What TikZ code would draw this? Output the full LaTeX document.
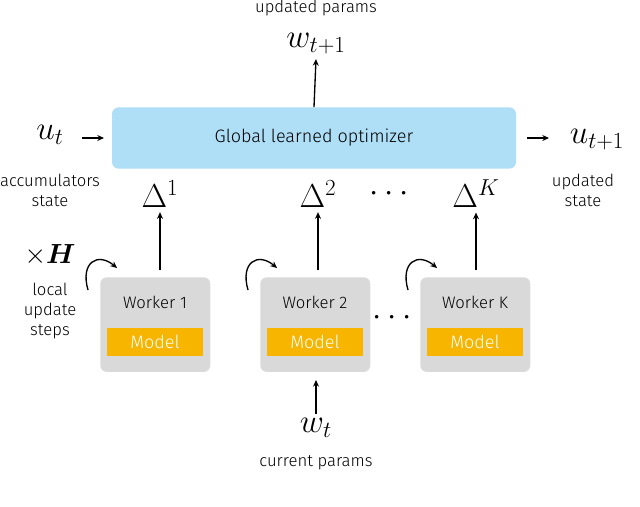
\documentclass[tikz,border=0pt]{standalone}
\usepackage{amsmath,amsbsy}
\usepackage{fontspec}
\setmainfont{Fira Sans}[UprightFont=*-Light]
\usetikzlibrary{arrows.meta}
\definecolor{optblue}{HTML}{AEDFF7}
\definecolor{wgray}{HTML}{D9D9D9}
\definecolor{morange}{HTML}{F7B500}
\begin{document}
\begin{tikzpicture}[x={(0.75pt,0)},y={(0,-0.75pt)},
  arr/.style={-{Stealth[length=5pt,width=4.5pt]},line width=1pt},
  lbl/.style={font=\fontsize{12.5}{15}\selectfont,align=center},
  mth/.style={font=\fontsize{26}{28}\selectfont},
  worker/.style={fill=wgray,rounded corners=5pt,minimum width=82.5pt,minimum height=71pt,anchor=north west,inner sep=0pt},
  model/.style={fill=morange,text=white,minimum width=72pt,minimum height=21pt,inner sep=0pt,font=\fontsize{13.5}{14}\selectfont},
  wtext/.style={font=\fontsize{12.5}{13}\selectfont}]
\useasboundingbox (0,0) rectangle (640,507);
\node[fill=optblue,rounded corners=5pt,minimum width=303pt,minimum height=46pt,inner sep=0pt,font=\fontsize{13.5}{14}\selectfont] (opt) at (314,138) {Global learned optimizer};
\node[lbl] (up) at (316,8) {updated params};
\node[mth] (wt1) at (316,44) {$w_{t+1}$};
\draw[arr] (opt.north) -- (wt1.south);
\node[mth] (ut) at (50,135) {$u_t$};
\node[mth] (ut1) at (597,140) {$u_{t+1}$};
\coordinate (a1) at (82,138); \coordinate (a2) at (104,138);
\draw[arr] (a1) -- (a2);
\coordinate (b1) at (527,138); \coordinate (b2) at (549,138);
\draw[arr] (b1) -- (b2);
\node[lbl] (acc) at (50,190) {accumulators\\state};
\node[lbl] (ust) at (583,190) {updated\\state};
\node[mth] (d1) at (160,194) {$\Delta^1$};
\node[mth] (d2) at (318,194) {$\Delta^2$};
\node[mth] (dd) at (392,194) {$\cdots$};
\node[mth] (dK) at (476,194) {$\Delta^K$};
\node[worker] (w1) at (100,277) {};
\node[worker] (w2) at (260,277) {};
\node[worker] (wK) at (420,277) {};
\foreach \w/\t/\x in {w1/Worker 1/155,w2/Worker 2/315,wK/Worker K/475}{
  \node[wtext] (\w t) at (\x,302) {\t};
  \node[model] (\w m) at (\x,342) {Model};
}
\coordinate (t1) at (160,270); \coordinate (t2) at (318,270); \coordinate (tK) at (476,270);
\draw[arr] (t1) -- (d1.south);
\draw[arr] (t2) -- (d2.south);
\draw[arr] (tK) -- (dK.south);
\node[mth] (wd) at (395,318) {$\cdots$};
\node[font=\fontsize{21}{22}\selectfont] (xh) at (50,255) {$\times\boldsymbol{H}$};
\node[lbl] (loc) at (50,311) {local\\update\\steps};
\foreach \dx/\n in {0/1,160/2,320/K}{
  \coordinate (c\n s) at (88+\dx,290); \coordinate (c\n e) at (117+\dx,268);
  \draw[arr] (c\n s) .. controls (80+\dx,262) and (98+\dx,252) .. (c\n e);
}
\node[mth] (wt) at (316,428) {$w_t$};
\coordinate (wtop) at (316,380);
\draw[arr] (wt.north) -- (wtop);
\node[lbl] (cp) at (316,463) {current params};
\end{tikzpicture}
\end{document}
